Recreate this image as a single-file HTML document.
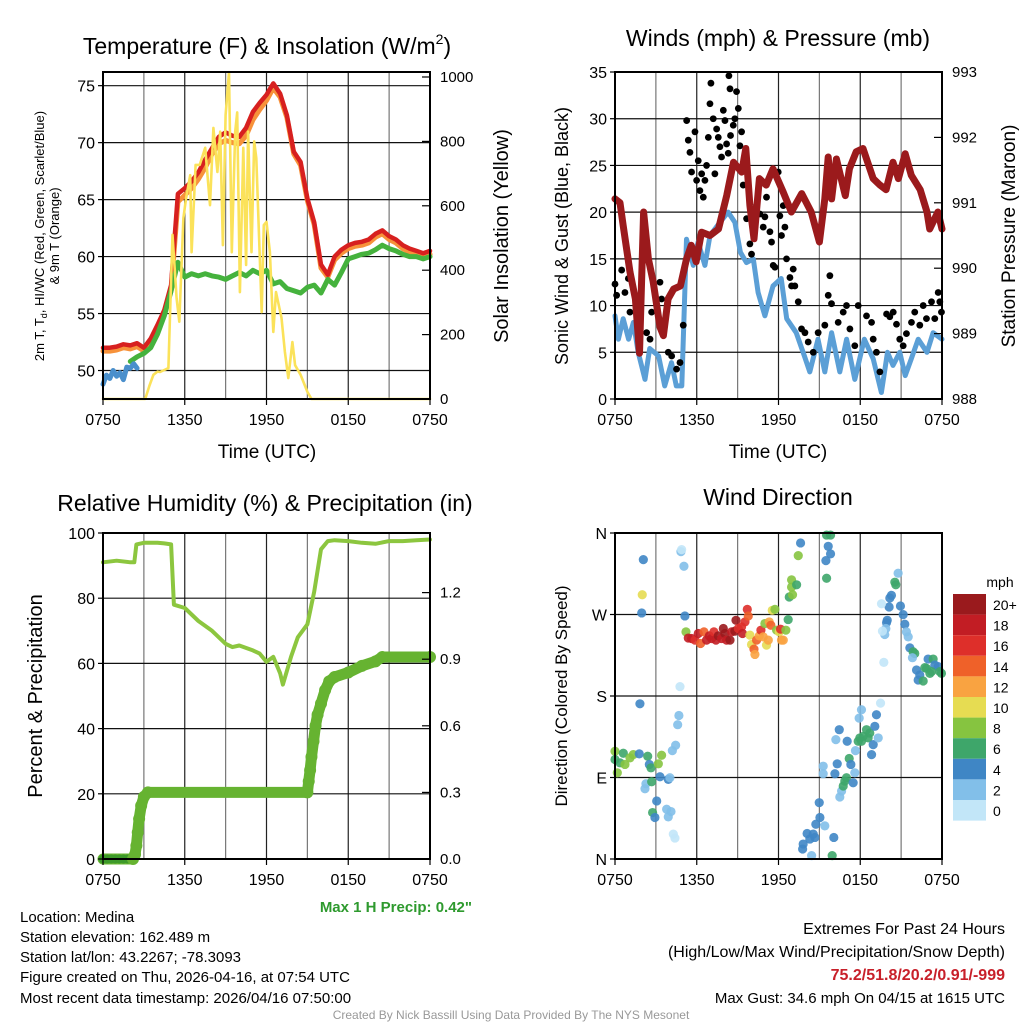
<!DOCTYPE html>
<html><head><meta charset="utf-8"><style>
html,body{margin:0;padding:0;background:#fff;}
svg{display:block;font-family:"Liberation Sans",Arial,sans-serif;}
</style></head><body>
<svg id="s" width="1024" height="1024" viewBox="0 0 1024 1024" xmlns="http://www.w3.org/2000/svg">
<g id="grid"></g>
<g id="marks"></g>
<g id="axes"></g>
<g id="labels" font-size="16" fill="#000">
<text x="267" y="54" text-anchor="middle" font-size="23">Temperature (F) &amp; Insolation (W/m<tspan font-size="14" dy="-10">2</tspan><tspan dy="10">)</tspan></text>
<text x="778" y="46" text-anchor="middle" font-size="23">Winds (mph) &amp; Pressure (mb)</text>
<text x="265" y="511" text-anchor="middle" font-size="23">Relative Humidity (%) &amp; Precipitation (in)</text>
<text x="778" y="505" text-anchor="middle" font-size="23">Wind Direction</text>
<text x="267" y="458" text-anchor="middle" font-size="19">Time (UTC)</text>
<text x="778" y="458" text-anchor="middle" font-size="19">Time (UTC)</text>
<g font-size="13">
<text transform="translate(44,236) rotate(-90)" text-anchor="middle">2m T, T<tspan font-size="9" dy="3">d</tspan><tspan dy="-3">, HI/WC (Red, Green, Scarlet/Blue)</tspan></text>
<text transform="translate(59,236) rotate(-90)" text-anchor="middle">&amp; 9m T (Orange)</text>
</g>
<text transform="translate(508,236) rotate(-90)" text-anchor="middle" font-size="20">Solar Insolation (Yellow)</text>
<text transform="translate(568,236) rotate(-90)" text-anchor="middle" font-size="18">Sonic Wind &amp; Gust (Blue, Black)</text>
<text transform="translate(1015,236) rotate(-90)" text-anchor="middle" font-size="19">Station Pressure (Maroon)</text>
<text transform="translate(42,696) rotate(-90)" text-anchor="middle" font-size="20">Percent &amp; Precipitation</text>
<text transform="translate(567,696) rotate(-90)" text-anchor="middle" font-size="17">Direction (Colored By Speed)</text>
<text x="472" y="912" text-anchor="end" font-size="15" font-weight="bold" fill="#2e9a2e">Max 1 H Precip: 0.42"</text>
<g font-size="15">
<text x="20" y="922">Location: Medina</text>
<text x="20" y="942">Station elevation: 162.489 m</text>
<text x="20" y="962">Station lat/lon: 43.2267; -78.3093</text>
<text x="20" y="982">Figure created on Thu, 2026-04-16, at 07:54 UTC</text>
<text x="20" y="1003">Most recent data timestamp: 2026/04/16 07:50:00</text>
</g>
<g font-size="16" text-anchor="end">
<text x="1005" y="934">Extremes For Past 24 Hours</text>
<text x="1005" y="957">(High/Low/Max Wind/Precipitation/Snow Depth)</text>
<text x="1005" y="980" font-weight="bold" fill="#c8202a">75.2/51.8/20.2/0.91/-999</text>
<text x="1005" y="1003" font-size="15">Max Gust: 34.6 mph On 04/15 at 1615 UTC</text>
</g>
<text x="511" y="1019" text-anchor="middle" font-size="12" fill="#999">Created By Nick Bassill Using Data Provided By The NYS Mesonet</text>
<text x="1000" y="587" text-anchor="middle" font-size="14">mph</text>
</g>
<g id="cbar"></g>
</svg>
<script>
// ---------- DATA ----------
const xTickLabels = ["0750","1350","1950","0150","0750"];
const halfHours = []; for (let i=0;i<=48;i++) halfHours.push(i/2);
const tempRed = [52,52,52.1,52.3,52.2,52.4,52,52.8,54,55.3,57.5,65.5,66,66.6,67.4,68.5,69.5,70.5,70.9,70.6,70.5,71.3,72.7,73.5,74.2,75.2,74.3,72.4,69.2,68.3,65.1,63,59.3,58.4,60,60.6,61,61.2,61.3,61.5,62,62.3,61.8,61.5,61,60.7,60.5,60.3,60.5];
const temp9m = [51.7,51.7,51.8,52,51.9,52.1,51.7,52.5,53.7,55,57,64.8,65.4,66,66.8,67.8,69,69.9,70.2,70,69.9,70.6,72,72.9,73.7,74.8,74,72.2,69,68,64.9,62.8,59,58.2,59.7,60.3,60.7,60.9,61,61.2,61.7,62,61.5,61.2,60.7,60.4,60.2,60,60.2];
const dewpoint = [null,null,null,null,50.8,51.2,51.5,52,53.2,54.8,57,59.5,58.2,58.5,58.3,58.5,58.3,58.2,58,58.3,58.6,58.3,58.8,58.5,58.8,57.6,57.8,57.2,57,56.8,57.3,57.5,56.8,58,57.5,58.6,59.8,60,60.2,60.3,60.6,61,60.7,60.5,60.2,60,60,59.8,60];
const wcHours = [0,0.25,0.5,0.75,1,1.25,1.5,1.75,2,2.25,2.5];
const wcVals = [48.8,49.6,49.3,50,49.5,49.8,49.2,50.3,50.2,50.6,50.2];
const insolHours = [0,2.4,3.1,3.4,3.7,4.0,4.18,4.5,4.8,5.1,5.4,5.6,5.9,6.1,6.4,6.5,6.8,7.1,7.5,7.85,8.1,8.4,8.6,8.8,9.0,9.25,9.45,9.7,9.85,10.05,10.3,10.5,10.65,10.9,11.1,11.25,11.65,11.8,12.0,12.25,12.5,12.7,13.1,13.35,13.6,13.9,14.1,14.5,15.0,15.3,24];
const insolVals = [0,0,0,40,75,85,84,90,96,510,313,240,562,624,695,456,727,727,780,602,842,705,830,478,882,1015,456,830,890,332,780,416,830,456,800,748,270,540,550,456,208,332,252,146,65,177,105,75,22,0,0];
const tempTicks = [50,55,60,65,70,75];
const insolTicks = [0,200,400,600,800,1000];

const windHours = [0,0.25,0.6,1,1.35,1.7,2.2,2.55,3.2,3.65,4.15,4.5,4.9,5.25,5.75,6.1,6.6,6.97,7.7,8.3,8.8,9.2,9.65,10.15,10.5,11,11.6,12.2,12.6,13.3,13.9,14.3,14.9,15.4,15.9,16.5,17,17.6,18.3,18.95,19.55,20,20.4,20.9,21.3,21.75,22.25,22.9,23.35,24];
const windMph = [8.9,6.4,8.6,6.4,8.2,5,2.1,5.4,4.6,1.4,3.9,1.4,1.4,17.1,14.3,16.8,14.3,17.5,18.9,20,18.9,15.7,14.6,15,11.4,8.9,12.1,12.9,8.6,7.1,4.6,2.9,6.4,2.9,7.1,2.9,6.4,2.1,6.4,4.3,0.7,5,3.6,5,2.5,4.3,6.4,5,7.1,6.4];
const gustPts = [[0,12.3],[0.12,11.1],[0.49,13.8],[0.73,11.4],[0.98,12.9],[1.1,9.3],[1.59,10.7],[2.32,7.1],[2.57,6.4],[2.69,9.3],[3.3,12.5],[3.42,10.7],[3.91,5],[4.16,4.6],[4.52,3.2],[4.77,3.9],[5.01,7.9],[5.26,29.8],[5.38,27.7],[5.5,26.4],[5.62,24.3],[5.87,28.6],[5.99,23.4],[6.11,25.5],[6.23,22.3],[6.36,24.1],[6.48,21.6],[6.6,23.4],[6.72,25],[6.85,28],[6.97,31.6],[7.04,33.8],[7.21,30],[7.33,24.1],[7.46,28.9],[7.58,28],[7.7,27],[7.82,25.9],[7.95,30.9],[8.07,29.8],[8.19,27.3],[8.31,26.3],[8.36,34.6],[8.44,33.2],[8.48,28.2],[8.68,29.3],[8.8,30],[8.92,32.9],[9.05,31.1],[9.17,27.1],[9.29,28.6],[9.41,22.9],[9.54,24.6],[9.66,19.3],[9.9,16.6],[10.02,15.5],[10.39,20.7],[10.64,19.8],[10.88,18.4],[11,19.5],[11.12,21.6],[11.37,17.9],[11.49,16.8],[11.61,14.3],[11.74,14.1],[11.98,24.3],[12.1,19.6],[12.22,17.5],[12.35,20.7],[12.47,18.4],[12.59,15],[12.84,13],[12.96,12.1],[13.08,13.9],[13.2,12.1],[13.45,10.4],[13.69,7.5],[13.94,7.1],[14.18,6.1],[14.55,5],[14.91,7.1],[15.4,7.9],[15.65,11.1],[15.77,13.2],[15.89,10.2],[16.38,8.2],[16.75,9.3],[16.99,10],[17.24,7.5],[17.6,5.7],[17.85,10],[18.46,8.9],[18.83,8.2],[18.95,6.4],[19.19,5],[19.44,2.9],[19.93,9.1],[20.17,8.8],[20.42,9.3],[20.66,8],[20.9,6.4],[21.15,5.7],[21.39,7],[21.76,8.2],[22,9.3],[22.37,7.9],[22.62,10],[22.86,8.6],[23.23,10.4],[23.47,8.6],[23.72,11.4],[23.84,10.4],[23.96,9.3]];
const presHours = [0,0.37,0.6,1.1,1.5,1.8,2.1,2.45,2.8,3.3,3.55,3.9,4.3,4.8,5.25,5.6,5.95,6.35,6.97,7.6,8.2,8.7,9.3,9.6,9.9,10.2,10.6,11.1,11.6,12.35,12.95,13.7,14.4,15.0,15.4,15.65,15.9,16.25,16.9,17.2,17.7,18.2,18.95,19.45,19.9,20.4,20.8,21.3,21.75,22.4,22.9,23.1,23.7,24];
const presMb = [991.06,991.0,990.65,989.94,989.53,988.7,990.86,990.14,989.8,989.1,988.97,989.53,989.68,989.73,990.14,990.35,990.1,990.55,990.5,990.6,991.11,991.62,991.47,991.83,990.96,990.45,991.37,991.27,991.52,991.16,990.86,991.14,990.86,990.4,991.06,991.7,991.06,991.67,991.11,991.52,991.78,991.83,991.37,991.27,991.2,991.62,991.37,991.75,991.42,991.2,990.86,990.6,990.86,990.6];
const windTicks = [0,5,10,15,20,25,30,35];
const presTicks = [988,989,990,991,992,993];

const rhHours = [0,1,2,2.3,2.45,3,4,4.5,5,5.2,6,7,8,8.5,9,9.5,10,11,11.5,12,12.5,13,13.2,13.8,14.3,15,15.5,16,16.5,17,18,19,20,21,22,23,24];
const rhVals = [91,91.5,91,91,96.5,97,97,96.8,96.5,78,77,73,70,68,66,65,65.5,64,63,60.5,62,57,53.5,62,68,72,82,95,97.5,97.8,97.5,97,96.7,97.5,97.5,97.8,98];
const precipHours = [0,0.3,0.6,0.9,1.2,1.5,1.8,2.1,2.2,2.35,2.45,2.55,2.65,2.8,3.0,3.3,15.0,15.1,15.2,15.3,15.45,15.6,15.75,16.0,16.3,16.6,17,18,19,20,20.5,24];
const precipVals = [0,0,0,0,0,0,0,0,0,0.02,0.06,0.12,0.18,0.24,0.28,0.3,0.3,0.35,0.4,0.46,0.53,0.6,0.65,0.7,0.76,0.8,0.82,0.84,0.87,0.89,0.91,0.91];
const rhTicks = [0,20,40,60,80,100];
const precipTicks = ["0.0","0.3","0.6","0.9","1.2"];

const dirTickLabels = ["N","E","S","W","N"];
const speedBins = ["20+","18","16","14","12","10","8","6","4","2","0"];
const speedColors = ["#9a1a1d","#c21d24","#de2f2a","#ef6129","#f9a341","#e6dc52","#86c440","#3ea66a","#3f86c5","#82bfe9","#c2e6f8"];
// [hour, direction deg, speed mph]
const dirPts = [[2.08,330.6,4],[2.0,291.8,10],[1.96,271.7,4],[1.83,171.4,4],[0,119,8],[0,109.9,6],[0.61,116.8,6],[0.37,106.2,6],[0.73,104.4,8],[0.17,95.2,8],[1.1,111.7,8],[1.34,115.3,8],[1.78,116.1,4],[2.4,113.5,6],[2.52,104.4,4],[2.64,100.7,6],[3.18,105.1,8],[3.42,114.6,8],[4.21,119.7,2],[4.45,125.6,2],[4.6,148.3,2],[4.69,158.5,2],[4.77,190.4,0],[3.3,90.8,4],[3.91,87.9,4],[4.03,89.7,2],[2.27,83.1,2],[2.2,77.6,2],[2.69,85.3,6],[3.06,64.1,4],[2.76,51.3,6],[2.93,45.8,4],[3.79,54.9,2],[4.11,52.4,2],[3.91,46.5,2],[4.28,27.5,0],[4.4,23.1,0],[4.84,339.4,2],[4.89,341.6,0],[5.06,323.3,2],[5.13,268.4,4],[5.21,250.8,8],
[5.38,244,18],[5.62,243.5,18],[5.87,241.7,16],[6.11,249,18],[6.28,238,14],[6.53,250.8,14],[6.72,241.7,18],[6.92,246.4,18],[7.09,243.5,18],[7.26,250.8,16],[7.41,241.7,18],[7.58,246.4,20],[7.82,243.5,18],[7.95,254.5,20],[8.07,249,20],[8.19,241.7,18],[8.44,241.7,20],[8.56,250.8,18],[8.8,251.6,20],[8.88,263.6,20],[9.05,254.5,16],[9.29,256.3,16],[9.36,249,18],[9.54,261.8,16],[9.71,275.7,16],[9.78,268.4,14],[9.9,247.2,10],[10.02,236.9,10],[10.2,231.8,14],[10.27,225.9,12],[10.39,241.7,14],[10.59,246.4,12],[10.71,252.7,16],[10.88,245.3,12],[11.0,260,8],[11.12,236.2,10],[11.25,241.7,12],[11.32,261.8,12],[11.44,258.1,14],[11.54,274.6,10],[11.74,275.7,8],[11.86,252.7,8],[12.05,250.8,10],[12.15,253.8,16],[12.22,241.7,12],[12.35,241.7,12],[12.54,252.7,8],[12.71,264.4,6],[12.79,289.3,6],[13.03,291.8,8],[12.96,300.3,8],[12.96,308.3,8],[13.33,302.8,6],[13.45,335,8],[13.62,349,4],[15.53,357.7,6],[15.82,357.7,6],[15.65,345.3,4],[15.82,336.9,4],[15.48,329.5,4],[15.53,310,6],
[13.81,16.5,4],[13.77,11,4],[14.1,28.2,4],[14.3,22,4],[14.43,3.7,2],[14.55,27.5,4],[14.67,23.8,4],[14.74,38.4,4],[15.04,45.8,4],[14.99,62.2,4],[15.4,36.6,2],[16.06,23.8,4],[15.94,3.7,6],[15.28,102.5,2],[15.28,94.1,2],[16.14,94.1,4],[16.31,105.1,4],[16.5,68.5,2],[16.63,75.1,2],[16.75,80.6,6],[16.87,86,6],[16.99,89.7,6],[17.19,111,6],[17.31,104.4,4],[17.48,84.2,4],[17.6,95.2,2],[17.65,119.7,2],[17.85,130,6],[17.97,133.7,6],[18.09,130,6],[18.22,135.5,6],[18.46,142.8,6],[18.58,133.7,6],[18.7,139.1,6],[18.83,115.3,4],[18.95,126.3,4],[19.07,146.5,4],[19.19,159.3,4],[19.32,133.7,2],[19.49,172.1,0],[17.92,155.6,2],[18.09,164.8,2],[16.46,142.8,4],[16.21,131.8,2],[17.04,130,4],
[20.78,315.6,2],[20.54,305.7,6],[20.61,302.8,6],[20.29,291.1,4],[20.12,278.3,4],[19.56,281.9,0],[20.17,288.2,4],[20.95,279.4,4],[21.15,269.9,4],[21.27,259.2,4],[19.98,263.6,4],[19.93,261.1,4],[19.88,254.5,2],[19.8,247.9,2],[19.63,251.6,0],[19.73,217.1,0],[21.39,250.8,2],[21.52,245.3,2],[21.64,233.2,4],[21.88,228.9,6],[22.0,227,6],[21.83,222.3,2],[22.13,208.7,4],[22.25,197.7,4],[22.37,203.2,4],[22.62,196.6,6],[22.86,210.5,6],[22.98,220.8,4],[23.35,220.8,6],[23.47,214.2,4],[23.72,212.4,4],[23.84,206.9,6],[23.96,205,6],[23.23,206.9,6],[22.74,211.3,6],[23.11,205,6]];

// ---------- RENDER ----------
const NS="http://www.w3.org/2000/svg";
function mk(tag,attrs,parent){const e=document.createElementNS(NS,tag);for(const k in attrs)e.setAttribute(k,attrs[k]);document.getElementById(parent).appendChild(e);return e;}
const P1={x0:103,x1:430,y0:72,y1:399}, P2={x0:615,x1:942,y0:72,y1:399}, P3={x0:103,x1:430,y0:533,y1:859}, P4={x0:615,x1:942,y0:533,y1:859};
function tx(P,h){return P.x0+h*(P.x1-P.x0)/24;}
function lin(P,lo,hi){return v=>P.y1-(v-lo)*(P.y1-P.y0)/(hi-lo);}
const yT=lin(P1,47.5,76.2), yI=lin(P1,0,1015.5), yW=lin(P2,0,35), yP=lin(P2,988,993), yR=lin(P3,0,100), yPr=lin(P3,0,1.4685), yD=lin(P4,0,360);
function pathD(P,hs,vs,ys){let d="",pen=false;for(let i=0;i<hs.length;i++){if(vs[i]===null||vs[i]===undefined){pen=false;continue;}d+=(pen?"L":"M")+tx(P,hs[i]).toFixed(1)+" "+ys(vs[i]).toFixed(1);pen=true;}return d;}
function line(P,hs,vs,ys,color,w,name){const e=mk("path",{d:pathD(P,hs,vs,ys),fill:"none",stroke:color,"stroke-width":w,"stroke-linejoin":"round","stroke-linecap":"round"},"marks");

return e;}

function frame(P,leftTicks,ly,leftLabels,rightTicks,ry,rightLabels,name){
  for(let k=0;k<=8;k++){const x=tx(P,k*3);const g=mk("line",{x1:x,x2:x,y1:P.y0,y2:P.y1,stroke:k%2?"#777":"#222","stroke-width":1.2},"grid");
    
    }
  leftTicks.forEach((v,i)=>{const y=ly(v);const g=mk("line",{x1:P.x0,x2:P.x1,y1:y,y2:y,stroke:"#111","stroke-width":1.2},"grid");
    
    
    const t=mk("text",{x:P.x0-8,y:y+6,"text-anchor":"end","font-size":16},"axes");t.textContent=leftLabels[i];
    
    
    mk("line",{x1:P.x0-5,x2:P.x0,y1:y,y2:y,stroke:"#000","stroke-width":1.2},"axes");});
  if(rightTicks) rightTicks.forEach((v,i)=>{const y=ry(v);const t=mk("text",{x:P.x1+10,y:y+5,"font-size":15},"axes");t.textContent=rightLabels[i];
    
    
    mk("line",{x1:P.x1-8,x2:P.x1,y1:y,y2:y,stroke:"#000","stroke-width":1.2},"axes");});
  xTickLabels.forEach((s,i)=>{const x=tx(P,i*6);const t=mk("text",{x:x,y:P.y1+26,"text-anchor":"middle","font-size":16},"axes");t.textContent=s;
    
    
    mk("line",{x1:x,x2:x,y1:P.y1,y2:P.y1+6,stroke:"#000","stroke-width":1.2},"axes");});
  const r=mk("rect",{x:P.x0,y:P.y0,width:P.x1-P.x0,height:P.y1-P.y0,fill:"none",stroke:"#000","stroke-width":2},"axes");
  
  
}
frame(P1,tempTicks,yT,tempTicks.map(String),insolTicks,yI,insolTicks.map(String),"temperature-plot-frame");
frame(P2,windTicks,yW,windTicks.map(String),presTicks,yP,presTicks.map(String),"winds-plot-frame");
frame(P3,rhTicks,yR,rhTicks.map(String),precipTicks.map(Number),yPr,precipTicks,"humidity-plot-frame");
frame(P4,[0,90,180,270,360],yD,dirTickLabels,null,null,null,"direction-plot-frame");

// panel 1
line(P1,halfHours,temp9m,yT,"#f7923a",5,"temp-9m-line");
line(P1,halfHours,tempRed,yT,"#d7201f",4.5,"temp-2m-line");
line(P1,halfHours,dewpoint,yT,"#45b23d",5,"dewpoint-line");
line(P1,wcHours,wcVals,yT,"#4a8fcc",5,"wind-chill-line");
line(P1,insolHours,insolVals,yI,"#fbe25a",2.6,"insolation-line");

// panel 2
line(P2,windHours,windMph,yW,"#5b9fd6",5,"sonic-wind-line");
gustPts.forEach(p=>{const c=mk("circle",{cx:tx(P2,p[0]),cy:yW(p[1]),r:3.4,fill:"#000"},"marks");
  
  });
line(P2,presHours,presMb,yP,"#9b1a1c",7,"pressure-line");

// panel 3
line(P3,rhHours,rhVals,yR,"#8cc63f",4,"humidity-line");
line(P3,precipHours,precipVals,yPr,"#66b331",11,"precip-line");
precipHours.forEach((h,i)=>{const c=mk("circle",{cx:tx(P3,h),cy:yPr(precipVals[i]),r:h<2.2?4.5:6,fill:h<2.2?"#3d9a2a":"#66b331"},"marks");
  
  });

// panel 4
function speedColor(s){let idx=10-Math.min(10,Math.floor(s/2));return speedColors[idx];}
dirPts.forEach(p=>{const c=mk("circle",{cx:tx(P4,p[0]),cy:yD(p[1]),r:4.6,fill:speedColor(p[2]),"fill-opacity":0.9},"marks");
  
  });

// colorbar
speedBins.forEach((lab,i)=>{const y=594+i*20.6;
  const r=mk("rect",{x:953,y:y,width:33,height:20.6,fill:speedColors[i]},"cbar");
  
  
  const t=mk("text",{x:993,y:y+16,"font-size":14},"cbar");t.textContent=lab;
  
  });
</script>
</body></html>
